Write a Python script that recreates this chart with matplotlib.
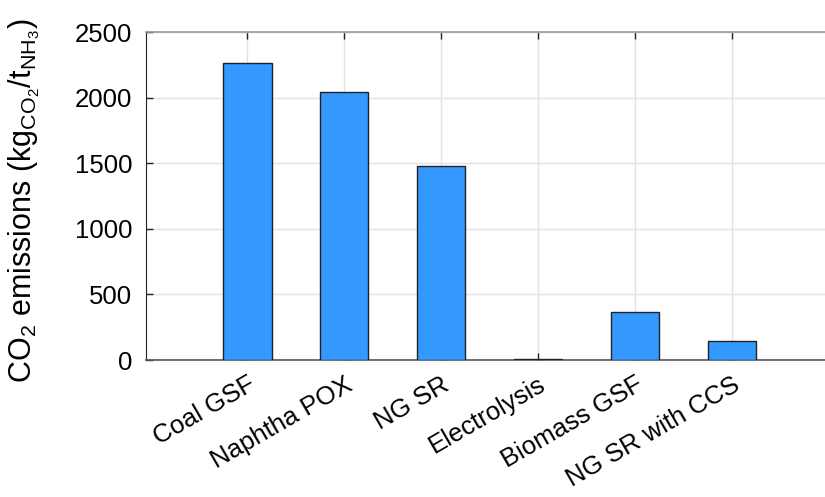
import numpy as np
import matplotlib.pyplot as plt

# Emission intensity per production route
routes = ["Coal GSF", "Naphtha POX", "NG SR", "Electrolysis", "Biomass GSF", "NG SR with CCS"]
emissions = [2267, 2043, 1475, 4, 365, 147]
y_ticks = [0, 500, 1000, 1500, 2000, 2500]

plt.rcParams['font.family'] = ['Liberation Sans', 'DejaVu Sans']
plt.rcParams['mathtext.fontset'] = 'custom'
plt.rcParams['mathtext.rm'] = 'Liberation Sans'
plt.rcParams['mathtext.it'] = 'Liberation Sans'

fig = plt.figure(figsize=(8.25, 4.97), dpi=100)
ax = fig.add_axes([146 / 825, 137 / 497, 683 / 825, 328 / 497])

x = np.arange(1, len(routes) + 1)
ax.bar(x, emissions, width=0.5, color="#3399ff", edgecolor="#222222", linewidth=1.0, zorder=3)

ax.set_xlim(-0.045, 7)
ax.set_ylim(0, 2500)
ax.set_yticks(y_ticks)
ax.set_xticks(x)
ax.set_xticklabels(routes, rotation=30, ha="right", rotation_mode="anchor", fontsize=18.5)
ax.tick_params(axis="y", labelsize=18.5, direction="in", length=5, width=1, color="#222222", pad=10)
ax.tick_params(axis="x", direction="in", length=5, width=1, color="#222222", pad=9, top=True)

ax.grid(True, color="#e3e3e3", linewidth=1, zorder=0)
ax.set_axisbelow(True)

ax.spines["left"].set_color("#222222")
ax.spines["bottom"].set_color("#555555")
ax.spines["bottom"].set_linewidth(1.2)
ax.spines["top"].set_color("#999999")
ax.spines["top"].set_linewidth(1.2)
ax.spines["right"].set_visible(False)

ax.set_ylabel(r"CO$_2$ emissions (kg$_{\mathrm{CO}_2}$/t$_{\mathrm{NH}_3}$)", fontsize=22)
ax.yaxis.set_label_coords(-0.153, 0.485)

fig.savefig("out.png", dpi=100)
